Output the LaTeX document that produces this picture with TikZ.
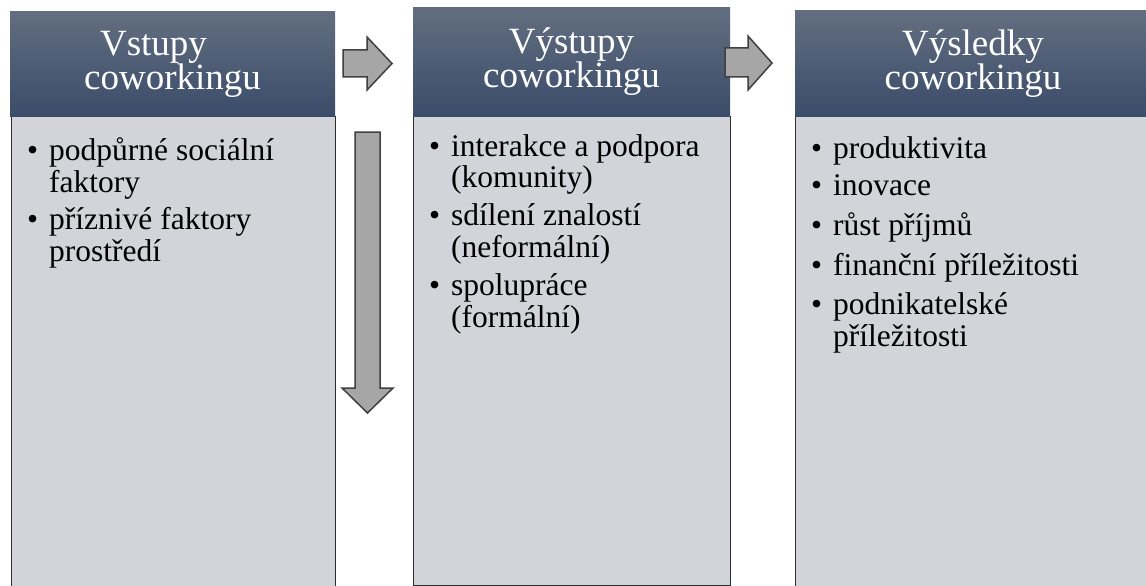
\documentclass[tikz,border=0pt]{standalone}
\usepackage{fontspec}
\setmainfont{Liberation Serif}

\definecolor{hdrtop}{RGB}{98,110,128}
\definecolor{hdrbot}{RGB}{59,76,106}
\definecolor{bodyfill}{RGB}{211,212,217}
\definecolor{bodyline}{RGB}{45,45,45}
\definecolor{arrowfill}{RGB}{166,166,166}
\definecolor{arrowline}{RGB}{64,64,64}

% one bullet item: bullet in a fixed box, later lines hang under the text
\newcommand\bitem[1]{\par\noindent\hangindent=28pt\hangafter=1\makebox[28pt][l]{\strut\hspace{6pt}\textbullet}#1}
\newcommand\itemlist[1]{\parbox[t]{320pt}{\raggedright\fontsize{31.5}{30}\selectfont\setlength\parskip{7.5pt}#1}}

\tikzset{
  hdr/.style={rectangle, inner sep=0pt, top color=hdrtop, bottom color=hdrbot,
    text=white, align=center, font=\fontsize{37}{34}\selectfont},
  bodybox/.style={rectangle, inner sep=0pt, anchor=north west, fill=bodyfill,
    draw=bodyline, line width=1.3pt},
  listtext/.style={inner sep=0pt, anchor=north west, text=black},
  blockarrow/.style={fill=arrowfill, draw=arrowline, line width=1.5pt, line join=miter}
}

\begin{document}
\begin{tikzpicture}[x=1pt, y=-1pt]
\clip (0,0) rectangle (1146,586);
\fill[white] (0,0) rectangle (1146,586);

% body panels
\node[bodybox, minimum width=324pt, minimum height=490pt] (b1) at (11,116) {};
\node[bodybox, minimum width=317pt, minimum height=469pt] (b2) at (413,116) {};
\node[bodybox, minimum width=360pt, minimum height=490pt] (b3) at (795,116) {};

% headers
\node[hdr, minimum width=325pt, minimum height=104pt] (h1) at (172.5,64) {Vstupy\hspace*{38pt}\\coworkingu};
\node[hdr, minimum width=317pt, minimum height=108pt] (h2) at (571.5,62) {Výstupy\\coworkingu};
\node[hdr, minimum width=356pt, minimum height=105pt] (h3) at (973,63.5) {Výsledky\\coworkingu};

% item lists
\node[listtext] (l1) at (21,137) {\itemlist{%
  \bitem{podpůrné sociální\newline faktory}
  \bitem{příznivé faktory\newline prostředí}}};
\node[listtext] (l2) at (423,134) {\itemlist{%
  \bitem{interakce a podpora\newline (komunity)}
  \bitem{sdílení znalostí\newline (neformální)}
  \bitem{spolupráce\newline (formální)}}};
\node[listtext] (l3) at (805,136) {\itemlist{%
  \bitem{produktivita}
  \bitem{inovace}
  \bitem{růst příjmů}
  \bitem{finanční příležitosti}
  \bitem{podnikatelské\newline příležitosti}}};

% block arrows between the stages
\draw[blockarrow] (343,50) -- (367,50) -- (367,37) -- (392,63.5) -- (367,90)
  -- (367,77) -- (343,77) -- cycle;
\draw[blockarrow] (725,48) -- (748,48) -- (748,36) -- (772,63) -- (748,90)
  -- (748,77) -- (725,77) -- cycle;
\draw[blockarrow] (355,132) -- (380,132) -- (380,388) -- (393,388) -- (367.5,413)
  -- (342,388) -- (355,388) -- cycle;
\end{tikzpicture}
\end{document}
